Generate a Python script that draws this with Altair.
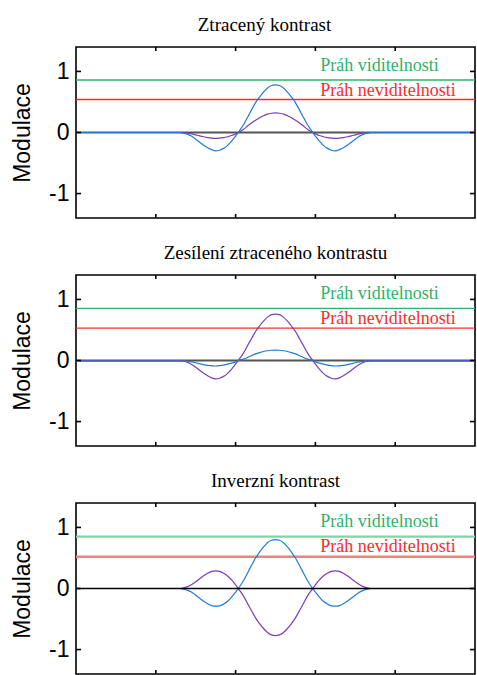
import altair as alt
import pandas as pd

# distance from the centre of the pattern (x = 2.5) and the curve values
D = [0.0, 0.05, 0.1, 0.15, 0.2, 0.25, 0.3, 0.35, 0.4, 0.45, 0.5, 0.55, 0.6,
     0.65, 0.7, 0.75, 0.8, 0.85, 0.9, 0.95, 1.0, 1.05, 1.1, 1.15, 1.2]

B1 = [0.78, 0.77, 0.73, 0.66, 0.58, 0.49, 0.37, 0.25, 0.13, 0.03, -0.06, -0.14, -0.21,
      -0.26, -0.29, -0.30, -0.28, -0.25, -0.21, -0.16, -0.11, -0.06, -0.03, -0.01, 0.0]
P1 = [0.32, 0.315, 0.30, 0.275, 0.24, 0.20, 0.155, 0.105, 0.055, 0.012, -0.022, -0.05, -0.07,
      -0.085, -0.093, -0.095, -0.092, -0.083, -0.07, -0.055, -0.038, -0.022, -0.011, -0.004, 0.0]
P2 = [0.76, 0.75, 0.71, 0.645, 0.565, 0.475, 0.36, 0.245, 0.125, 0.03, -0.06, -0.14, -0.21,
      -0.26, -0.29, -0.30, -0.285, -0.25, -0.21, -0.16, -0.11, -0.065, -0.03, -0.01, 0.0]
B2 = [0.17, 0.168, 0.16, 0.148, 0.13, 0.108, 0.08, 0.05, 0.022, 0.006, -0.022, -0.042, -0.06,
      -0.075, -0.085, -0.09, -0.088, -0.08, -0.068, -0.053, -0.037, -0.024, -0.015, -0.011, -0.01]
B3 = [0.80, 0.79, 0.75, 0.68, 0.595, 0.50, 0.38, 0.255, 0.13, 0.03, -0.06, -0.14, -0.21,
      -0.255, -0.285, -0.29, -0.28, -0.25, -0.21, -0.16, -0.11, -0.06, -0.03, -0.01, 0.0]
P3 = [-0.77, -0.76, -0.72, -0.655, -0.575, -0.48, -0.365, -0.245, -0.125, -0.03, 0.06, 0.14, 0.205,
      0.25, 0.28, 0.29, 0.28, 0.25, 0.21, 0.16, 0.11, 0.065, 0.03, 0.012, 0.0]

TITLES = ["Ztracený kontrast", "Zesílení ztraceného kontrastu", "Inverzní kontrast"]
VISIBLE = [0.86, 0.855, 0.85]      # Práh viditelnosti
INVISIBLE = [0.54, 0.53, 0.52]     # Práh neviditelnosti
LABELS = ["Práh viditelnosti", "Práh neviditelnosti"]
LABEL_X = 3.06
LABEL_Y = [1.09, 0.68]
X_TICKS = [1, 2, 3, 4]
Y_TICKS = [-1, 0, 1]

BLUE = "#1f7bd4"
PURPLE = "#7a3db3"
GREEN = "#2eb46a"
RED = "#ff2b2b"

W, H = 399, 171
XS = alt.Scale(domain=[0, 5], nice=False, zero=False)
YS = alt.Scale(domain=[-1.4, 1.4], nice=False, zero=False)


def mirror(half, tail):
    xs = [0.0] + [round(2.5 - d, 3) for d in reversed(D)] + [round(2.5 + d, 3) for d in D[1:]] + [5.0]
    ys = [tail] + list(reversed(half)) + half[1:] + [tail]
    return pd.DataFrame({"x": xs, "y": ys})


def curve(half, color, tail=0.0):
    return alt.Chart(mirror(half, tail)).mark_line(
        color=color, strokeWidth=1.2, interpolate="monotone", clip=True
    ).encode(
        x=alt.X("x:Q", scale=XS, axis=None),
        y=alt.Y("y:Q", scale=YS,
                axis=alt.Axis(values=Y_TICKS, ticks=False, domain=False, grid=False,
                              labelFont="Liberation Sans", labelFontSize=23, labelColor="black",
                              labelPadding=7, labelExpr="datum.value + ''",
                              title="Modulace", titleFont="Liberation Sans", titleFontSize=23,
                              titleFontWeight="normal", titleColor="black", titlePadding=14)),
    )


def hline(value, color, width):
    return alt.Chart(pd.DataFrame({"v": [value]})).mark_rule(color=color, strokeWidth=width).encode(
        y=alt.Y("v:Q", scale=YS))


def panel(i, curves, zero_on_top, light):
    gcol = "#7fd6a5" if light else GREEN
    rcol = "#f77f7f" if light else RED
    lw = 2.4 if light else 1.3
    zero = hline(0, "black" if zero_on_top else "#555555", 1.4 if zero_on_top else 1.8)
    layers = [hline(VISIBLE[i], gcol, lw), hline(INVISIBLE[i], rcol, lw)]
    if not zero_on_top:
        layers.append(zero)
    layers += curves
    if zero_on_top:
        layers.append(zero)
    txt = pd.DataFrame({"x": [LABEL_X, LABEL_X], "y": LABEL_Y, "t": LABELS, "c": [GREEN, RED]})
    layers.append(alt.Chart(txt).mark_text(
        align="left", baseline="middle", font="Liberation Serif", fontSize=18
    ).encode(x=alt.X("x:Q", scale=XS), y=alt.Y("y:Q", scale=YS), text="t:N",
             color=alt.Color("c:N", scale=None)))
    xt = pd.DataFrame({"x": X_TICKS})
    yt = pd.DataFrame({"y": Y_TICKS})
    layers.append(alt.Chart(xt).mark_rule(color="black", strokeWidth=1.6).encode(
        x=alt.X("x:Q", scale=XS), y=alt.value(0), y2=alt.value(4)))
    layers.append(alt.Chart(xt).mark_rule(color="black", strokeWidth=1.6).encode(
        x=alt.X("x:Q", scale=XS), y=alt.value(H), y2=alt.value(H - 4)))
    layers.append(alt.Chart(yt).mark_rule(color="black", strokeWidth=1.6).encode(
        y=alt.Y("y:Q", scale=YS), x=alt.value(0), x2=alt.value(5)))
    layers.append(alt.Chart(yt).mark_rule(color="black", strokeWidth=1.6).encode(
        y=alt.Y("y:Q", scale=YS), x=alt.value(W), x2=alt.value(W - 5)))
    return alt.layer(*layers).properties(
        width=W, height=H,
        title=alt.TitleParams(TITLES[i], font="Liberation Serif", fontSize=19, fontWeight="normal",
                              color="black", anchor="middle", baseline="alphabetic", offset=-4,
                              dx=-11 if i == 0 else 0),
    )


p1 = panel(0, [curve(P1, PURPLE), curve(B1, BLUE)], False, False)
p2 = panel(1, [curve(P2, PURPLE), curve(B2, BLUE, -0.01)], False, False)
p3 = panel(2, [curve(P3, PURPLE), curve(B3, BLUE)], True, True)

chart = alt.vconcat(p1, p2, p3, spacing=57, bounds="flush").properties(
    padding={"left": 10, "top": 15, "right": 0, "bottom": 0}, background="white"
).configure_view(stroke="black", strokeWidth=1.6)

chart.save("out.html", embed_options={"renderer": "svg", "actions": False})
